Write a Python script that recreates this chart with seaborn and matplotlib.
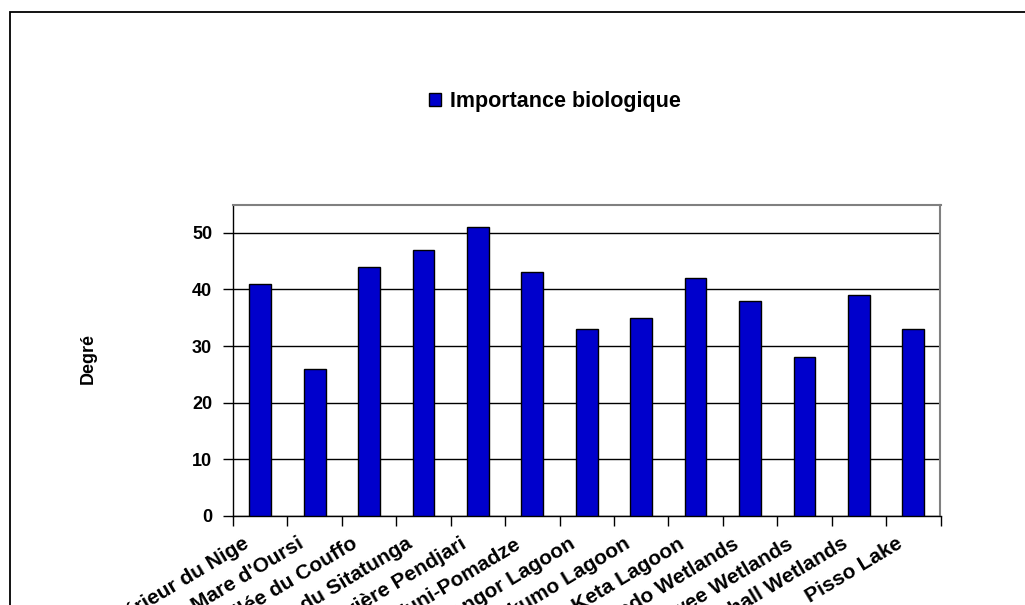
import matplotlib
matplotlib.use("Agg")
import matplotlib.pyplot as plt
from matplotlib.patches import Patch, Rectangle
from matplotlib.transforms import ScaledTranslation
import numpy as np
import pandas as pd
import seaborn as sns

# Sites and their biological-importance scores
sites = [
    "Delta Intérieur du Nige",
    "Mare d'Oursi",
    "Basse Vallée du Couffo",
    "Vallée du Sitatunga",
    "Rivière Pendjari",
    "Muni-Pomadze",
    "Songor Lagoon",
    "Sakumo Lagoon",
    "Keta Lagoon",
    "Mesurado Wetlands",
    "Kpatawee Wetlands",
    "Marshall Wetlands",
    "Pisso Lake",
]
scores = [41, 26, 44, 47, 51, 43, 33, 35, 42, 38, 28, 39, 33]
series_name = "Importance biologique"
y_label = "Degré"
y_ticks = [0, 10, 20, 30, 40, 50]

df = pd.DataFrame({"site": sites, "score": scores})

sns.set_theme(style="white")
plt.rcParams["font.family"] = ["Liberation Sans", "DejaVu Sans"]
plt.rcParams["font.weight"] = "bold"
plt.rcParams["text.color"] = "black"
plt.rcParams["axes.labelcolor"] = "black"
plt.rcParams["xtick.color"] = "black"
plt.rcParams["ytick.color"] = "black"

fig = plt.figure(figsize=(10.25, 6.05), dpi=100)
ax = fig.add_axes([233 / 1025, 1 - 516 / 605, (940.5 - 233) / 1025, (516 - 204.5) / 605])

bar_color = "#0000CC"
sns.barplot(data=df, x="site", y="score", color=bar_color, width=0.4,
            edgecolor="black", linewidth=1.0, saturation=1, ax=ax, zorder=3)

ax.set_xlim(-0.5, len(sites) - 0.5)
ax.set_ylim(0, 55)
ax.set_yticks(y_ticks)
ax.set_yticklabels([str(t) for t in y_ticks], fontsize=13, fontweight="bold",
                   color="black")
ax.yaxis.grid(True, color="black", linewidth=1.0, zorder=0)
ax.set_axisbelow(True)

# Frame: black left/bottom, grey top/right
for side in ["left", "bottom"]:
    ax.spines[side].set_color("black")
    ax.spines[side].set_linewidth(1.0)
for side in ["top", "right"]:
    ax.spines[side].set_color("#808080")
    ax.spines[side].set_linewidth(1.5)

ax.tick_params(axis="y", which="major", direction="out", length=7, width=1,
               color="black", pad=8, left=True)

# Category labels at centres, tick marks on category boundaries
ax.set_xticks(np.arange(len(sites)))
ax.set_xticks(np.arange(len(sites) + 1) - 0.5, minor=True)
ax.tick_params(axis="x", which="major", length=0, pad=0, bottom=True)
ax.tick_params(axis="x", which="minor", direction="out", length=7, width=1,
               color="black", bottom=True)
ax.set_xticklabels(sites, rotation=31, ha="right", va="baseline",
                   rotation_mode="anchor", fontsize=15, fontweight="bold",
                   color="black")
offset = ScaledTranslation(-10 / 100, -31 / 100, fig.dpi_scale_trans)
for lab in ax.get_xticklabels():
    lab.set_transform(lab.get_transform() + offset)

ax.set_xlabel("")
ax.set_ylabel(y_label, fontsize=13, fontweight="bold", color="black")
ax.yaxis.set_label_coords((97 - 233) / (940.5 - 233), (516 - 358) / (516 - 204.5))

handle = Patch(facecolor=bar_color, edgecolor="black", linewidth=1.0)
leg = fig.legend([handle], [series_name], loc="center",
                 bbox_to_anchor=(555 / 1025, 1 - 102 / 605),
                 frameon=False, prop={"size": 15.5, "weight": "bold"},
                 handlelength=0.55, handleheight=0.55, handletextpad=0.4)
for t in leg.get_texts():
    t.set_color("black")

# Outer chart border (extends past the right and bottom edges)
fig.patches.append(Rectangle((9.5 / 1025, -0.2), 1.2, 1 - 11.7 / 605 + 0.2,
                             transform=fig.transFigure, fill=False,
                             edgecolor="black", linewidth=1.3))

fig.savefig("out.png", dpi=100)
